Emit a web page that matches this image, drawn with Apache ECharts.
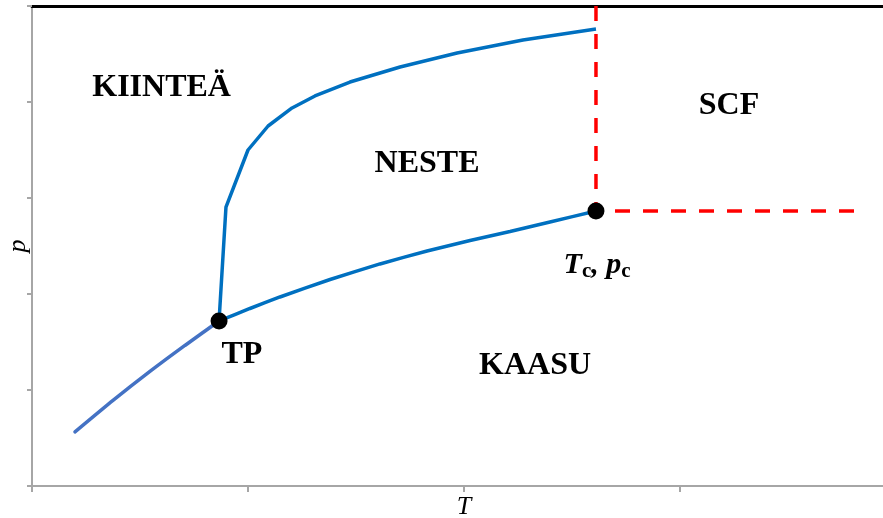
<!DOCTYPE html>
<html>
<head>
<meta charset="utf-8">
<script src="https://cdn.jsdelivr.net/npm/echarts@6/dist/echarts.min.js"></script>
<style>
  html, body { margin: 0; padding: 0; background: #fff; }
  #chart { width: 883px; height: 518px; }
</style>
</head>
<body>
<div id="chart"></div>
<script>
// Phase diagram (p vs T): sublimation, melting and vaporization curves
const sublimationCurve = [[0.199, 0.563], [0.375, 0.891], [0.546, 1.193], [0.708, 1.464], [0.866, 1.719]];
const meltingCurve = [[0.866, 1.719], [0.898, 2.906], [1.0, 3.5], [1.093, 3.75], [1.204, 3.938],
  [1.31, 4.063], [1.472, 4.208], [1.704, 4.365], [1.968, 4.51], [2.273, 4.646], [2.611, 4.76]];
const vaporizationCurve = [[0.866, 1.719], [1.009, 1.849], [1.148, 1.969], [1.38, 2.151], [1.611, 2.313],
  [1.829, 2.448], [2.028, 2.557], [2.213, 2.651], [2.398, 2.75], [2.611, 2.865]];
const triplePoint = [0.866, 1.719];
const criticalPoint = [2.611, 2.865];
const supercriticalEdge = [[2.611, 5], [2.611, 2.865], [3.81, 2.865]];
const regionLabels = [[0.6, 4.15, 'KIINTEÄ'], [1.829, 3.36, 'NESTE'], [3.227, 3.96, 'SCF'],
  [2.329, 1.25, 'KAASU'], [0.972, 1.365, 'TP']];
const criticalLabel = [2.616, 2.30];

const serif = '"Liberation Serif", "Times New Roman", serif';
const axisGray = '#A6A6A6';

const chart = echarts.init(document.getElementById('chart'));
chart.setOption({
  animation: false,
  grid: { left: 32, top: 6, width: 864, height: 480, outerBoundsMode: 'none', containLabel: false },
  xAxis: [{
    type: 'value', min: 0, max: 4, interval: 1,
    name: 'T', nameLocation: 'middle', nameGap: 8,
    nameTextStyle: { fontFamily: serif, fontStyle: 'italic', fontSize: 26, color: '#000', verticalAlign: 'top' },
    axisLine: { show: true, lineStyle: { color: axisGray, width: 2 } },
    axisTick: { show: true, length: 6, lineStyle: { color: axisGray, width: 2 } },
    axisLabel: { show: false }, splitLine: { show: false }
  }, {
    type: 'value', min: 0, max: 4, position: 'top',
    axisLine: { show: true, lineStyle: { color: '#000', width: 3 } },
    axisTick: { show: false }, axisLabel: { show: false }, splitLine: { show: false }
  }],
  yAxis: {
    type: 'value', min: 0, max: 5, interval: 1,
    name: 'p', nameLocation: 'middle', nameGap: 1, nameRotate: 90,
    nameTextStyle: { fontFamily: serif, fontStyle: 'italic', fontSize: 26, color: '#000' },
    axisLine: { show: true, lineStyle: { color: axisGray, width: 2 } },
    axisTick: { show: true, length: 5, lineStyle: { color: axisGray, width: 2 } },
    axisLabel: { show: false }, splitLine: { show: false }
  },
  series: [
    {
      type: 'line', data: sublimationCurve, smooth: 0.2, symbol: 'none',
      lineStyle: { color: '#4472C4', width: 3.5, cap: 'round' }, z: 2
    },
    {
      type: 'line', data: meltingCurve, symbol: 'none',
      lineStyle: { color: '#0070C0', width: 3.5 }, z: 3
    },
    {
      type: 'line', data: vaporizationCurve, smooth: 0.15, symbol: 'none',
      lineStyle: { color: '#0070C0', width: 3.5 }, z: 3
    },
    {
      type: 'line', data: supercriticalEdge, symbol: 'none',
      lineStyle: { color: '#FF0000', width: 3.5, type: [15, 13] }, z: 2
    },
    {
      type: 'scatter', data: [triplePoint, criticalPoint], symbol: 'circle', symbolSize: 17,
      itemStyle: { color: '#000', opacity: 1 }, z: 5
    },
    {
      type: 'scatter', data: regionLabels, symbolSize: 0, z: 6,
      itemStyle: { opacity: 1 },
      label: {
        show: true, position: 'inside', formatter: p => p.data[2],
        fontFamily: serif, fontWeight: 'bold', fontSize: 32, color: '#000'
      }
    },
    {
      type: 'scatter', data: [criticalLabel], symbolSize: 0, z: 6,
      itemStyle: { opacity: 1 },
      label: {
        show: true, position: 'inside',
        formatter: '{m|T}{s|c}{m|, p}{s|c}',
        rich: {
          m: { fontFamily: serif, fontWeight: 'bold', fontStyle: 'italic', fontSize: 30, color: '#000' },
          s: { fontFamily: serif, fontWeight: 'bold', fontSize: 21, color: '#000', padding: [12, 0, 0, 0] }
        }
      }
    }
  ]
});
</script>
</body>
</html>
